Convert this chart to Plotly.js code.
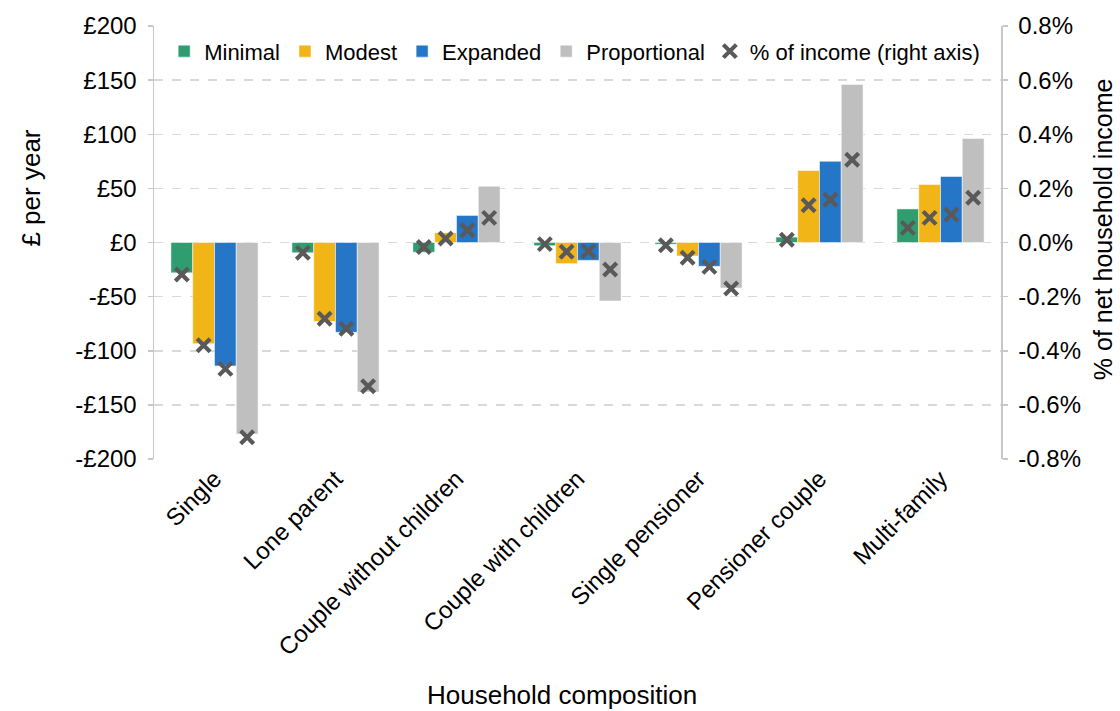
<!DOCTYPE html>
<html>
<head>
<meta charset="utf-8">
<script src="https://cdn.plot.ly/plotly-3.0.1.min.js"></script>
<style>html,body{margin:0;padding:0;background:#fff;}#chart{width:1120px;height:711px;}</style>
</head>
<body>
<div id="chart"></div>
<script>
// ---- Data ----
const categories = ["Single", "Lone parent", "Couple without children", "Couple with children", "Single pensioner", "Pensioner couple", "Multi-family"];
const seriesNames = ["Minimal", "Modest", "Expanded", "Proportional"];
const minimalGBP = [-28, -9.5, -9, -3, -1.6, 5, 31];
const modestGBP = [-93.5, -73, 9, -19.5, -12.5, 66.5, 53.5];
const expandedGBP = [-114, -83, 25, -16.5, -22, 75, 61];
const proportionalGBP = [-177, -138, 52, -54, -42, 146, 96];
const minimalPct = [-0.118, -0.038, -0.017, -0.006, -0.01, 0.01, 0.054];
const modestPct = [-0.38, -0.282, 0.015, -0.034, -0.056, 0.138, 0.091];
const expandedPct = [-0.467, -0.319, 0.045, -0.032, -0.09, 0.158, 0.103];
const proportionalPct = [-0.72, -0.531, 0.091, -0.1, -0.17, 0.306, 0.165];
const leftTickVals = [-200, -150, -100, -50, 0, 50, 100, 150, 200];
const leftTickText = ["-£200", "-£150", "-£100", "-£50", "£0", "£50", "£100", "£150", "£200"];
const rightTickVals = [-0.8, -0.6, -0.4, -0.2, 0, 0.2, 0.4, 0.6, 0.8];
const rightTickText = ["-0.8%", "-0.6%", "-0.4%", "-0.2%", "0.0%", "0.2%", "0.4%", "0.6%", "0.8%"];
const pctLegendName = "% of income (right axis)";

// ---- Styles ----
const colors = ["#2F9D70", "#F2B517", "#2676C8", "#BFBFBF"];
const gbpSeries = [minimalGBP, modestGBP, expandedGBP, proportionalGBP];
const pctSeries = [minimalPct, modestPct, expandedPct, proportionalPct];
const FONT = "Liberation Sans, Arial, sans-serif";
const axisGrey = "#C8C8C8";

const traces = [];
gbpSeries.forEach((vals, i) => {
  traces.push({
    type: "bar", name: seriesNames[i], x: categories, y: vals,
    marker: {color: colors[i], line: {color: "rgba(255,255,255,0.5)", width: 1}},
    offsetgroup: "g" + i, xaxis: "x", yaxis: "y", hoverinfo: "x+y+name"
  });
});
pctSeries.forEach((vals, i) => {
  traces.push({
    type: "scatter", mode: "markers", name: pctLegendName, x: categories, y: vals,
    legendgroup: "pct", showlegend: i === 0,
    marker: {symbol: "x-thin", size: 13, color: "#595959", line: {color: "#595959", width: 4.2}},
    offsetgroup: "g" + i, xaxis: "x", yaxis: "y2", cliponaxis: false
  });
});

const layout = {
  width: 1120, height: 711,
  margin: {l: 154, r: 119, t: 26, b: 252, pad: 0},
  paper_bgcolor: "#fff", plot_bgcolor: "#fff",
  font: {family: FONT, size: 24, color: "#000"},
  barmode: "group", bargap: 0.28, bargroupgap: 0,
  scattermode: "group", scattergap: 0.28,
  showlegend: true,
  legend: {orientation: "h", x: 0.012, xanchor: "left", y: 0.99, yanchor: "top",
           font: {family: FONT, size: 22, color: "#000"}, bgcolor: "rgba(255,255,255,0)",
           traceorder: "normal", itemwidth: 30, tracegroupgap: 0},
  xaxis: {
    type: "category", categoryorder: "array", categoryarray: categories,
    range: [-0.5, 6.5], showgrid: false, zeroline: false, showline: false,
    ticks: "", tickangle: -45, tickfont: {family: FONT, size: 24, color: "#000"},
    fixedrange: true
  },
  xaxis2: {
    overlaying: "x", anchor: "free", position: 0.5, range: [-0.5, 6.5],
    tickvals: [0.5, 1.5, 2.5, 3.5, 4.5, 5.5], showticklabels: false,
    ticks: "outside", ticklen: 7, tickwidth: 1.5, tickcolor: axisGrey,
    showline: true, linecolor: "#D0D0D0", linewidth: 2, showgrid: false, zeroline: false
  },
  yaxis: {
    range: [-200, 200], tickvals: leftTickVals, ticktext: leftTickText,
    showgrid: true, gridcolor: "#D9D9D9", gridwidth: 1.5, griddash: "dash",
    zeroline: false, showline: true, linecolor: axisGrey, linewidth: 1.5,
    ticks: "outside", ticklen: 5, tickcolor: axisGrey, tickwidth: 1.5,
    tickfont: {family: FONT, size: 24, color: "#000"}, ticklabelstandoff: 6
  },
  yaxis2: {
    overlaying: "y", side: "right", range: [-0.8, 0.8],
    tickvals: rightTickVals, ticktext: rightTickText,
    showgrid: false, zeroline: false, showline: true, linecolor: axisGrey, linewidth: 1.5,
    ticks: "outside", ticklen: 5, tickcolor: axisGrey, tickwidth: 1.5,
    tickfont: {family: FONT, size: 24, color: "#000"}, ticklabelstandoff: 6
  },
  annotations: [
    {text: "£ per year", xref: "paper", yref: "paper", x: -0.145, y: 0.625, xanchor: "center", yanchor: "middle",
     textangle: -90, showarrow: false, font: {family: FONT, size: 26, color: "#000"}},
    {text: "% of net household income", xref: "paper", yref: "paper", x: 1.12, y: 0.53, xanchor: "center", yanchor: "middle",
     textangle: -90, showarrow: false, font: {family: FONT, size: 25, color: "#000"}},
    {text: "Household composition", xref: "paper", yref: "paper", x: 0.482, y: -0.545, xanchor: "center", yanchor: "middle",
     showarrow: false, font: {family: FONT, size: 26, color: "#000"}}
  ]
};

Plotly.newPlot("chart", traces, layout, {displayModeBar: false, staticPlot: true});
</script>
</body>
</html>
